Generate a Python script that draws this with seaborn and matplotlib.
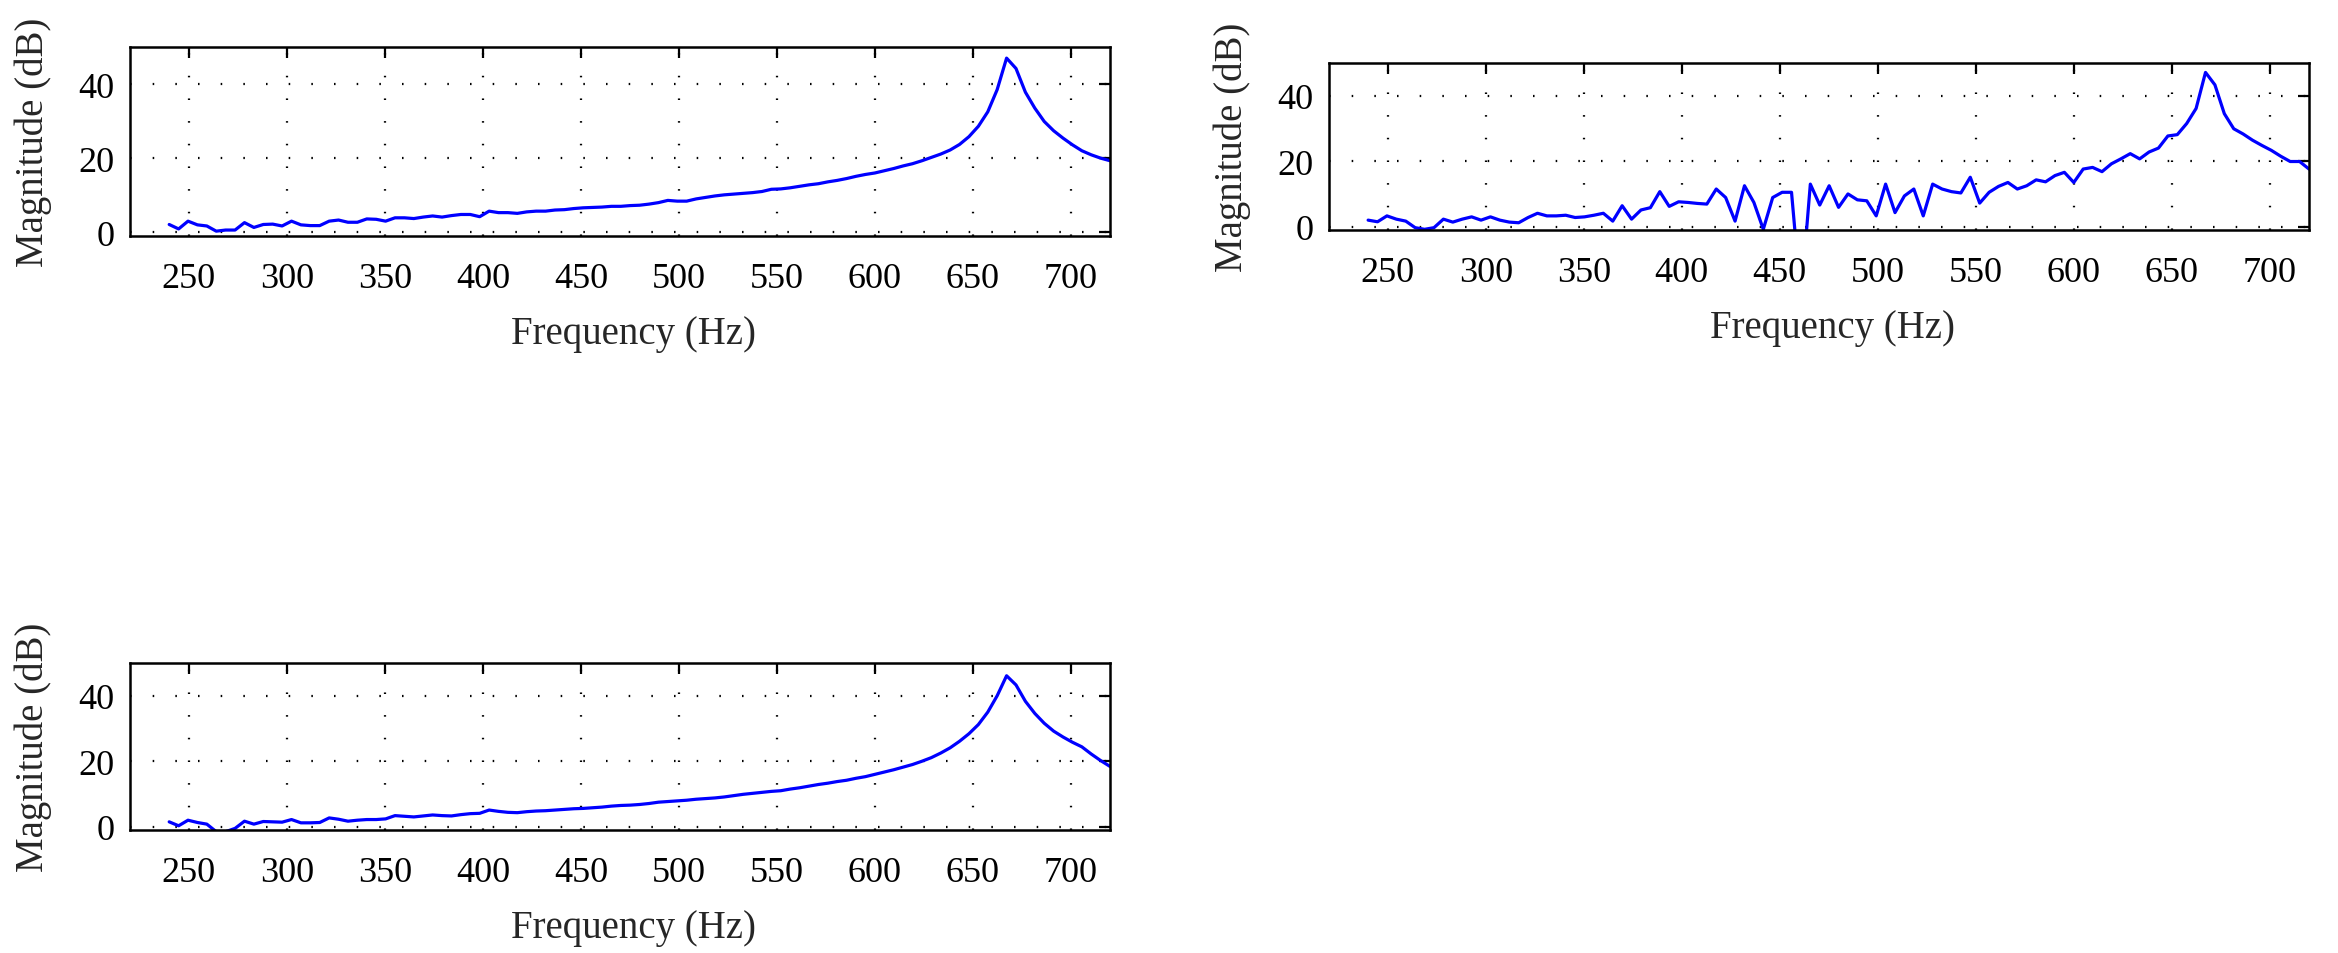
import matplotlib
matplotlib.use("Agg")
import matplotlib.pyplot as plt
import numpy as np
import seaborn as sns

# frequency grid (Hz), 101 samples from 240 to 720
freq = np.linspace(240, 720, 101)

# magnitude responses (dB)
mag_top_left = [
    2.1, 0.9, 3.0, 2.0, 1.7, 0.3, 0.6, 0.6, 2.6, 1.3,
    2.1, 2.2, 1.7, 3.0, 2.0, 1.8, 1.8, 3.0, 3.3, 2.7,
    2.7, 3.6, 3.5, 3.0, 3.9, 3.9, 3.7, 4.1, 4.4, 4.1,
    4.5, 4.8, 4.8, 4.2, 5.7, 5.3, 5.3, 5.1, 5.5, 5.7,
    5.7, 6.0, 6.1, 6.4, 6.6, 6.7, 6.8, 7.0, 7.0, 7.2,
    7.3, 7.6, 8.0, 8.6, 8.4, 8.4, 9.0, 9.4, 9.8, 10.1,
    10.3, 10.5, 10.7, 11.0, 11.6, 11.7, 12.0, 12.4, 12.8, 13.1,
    13.6, 14.0, 14.5, 15.1, 15.6, 16.0, 16.6, 17.2, 17.9, 18.5,
    19.3, 20.2, 21.1, 22.2, 23.7, 25.8, 28.6, 32.5, 38.5, 47.0,
    44.2, 37.8, 33.5, 29.9, 27.4, 25.4, 23.6, 22.0, 20.9, 20.0,
    19.3,
]

mag_top_right = [
    2.0, 1.5, 3.3, 2.3, 1.7, -0.3, -0.8, -0.3, 2.3, 1.4,
    2.3, 3.0, 2.0, 3.0, 2.0, 1.4, 1.2, 2.8, 4.1, 3.3,
    3.3, 3.5, 2.8, 3.0, 3.5, 4.1, 1.7, 6.4, 2.3, 5.1,
    5.8, 10.7, 6.2, 7.6, 7.4, 7.1, 6.9, 11.5, 8.9, 1.7,
    12.5, 7.4, -0.8, 8.9, 10.5, 10.5, -22.0, 13.0, 6.6, 12.5,
    5.9, 10.0, 8.2, 7.9, 3.3, 13.0, 4.3, 9.4, 11.5, 3.3,
    13.0, 11.5, 10.7, 10.3, 15.1, 7.2, 10.5, 12.3, 13.5, 11.5,
    12.5, 14.3, 13.7, 15.6, 16.6, 13.5, 17.6, 18.1, 16.8, 19.2,
    20.7, 22.3, 20.7, 22.8, 24.0, 27.7, 28.1, 31.5, 36.1, 47.1,
    43.3, 34.5, 29.9, 28.3, 26.4, 24.8, 23.3, 21.5, 19.9, 19.9,
    17.6,
]

mag_bottom_left = [
    1.5, 0.3, 2.0, 1.3, 0.8, -1.5, -1.5, -0.5, 1.7, 0.8,
    1.6, 1.5, 1.4, 2.2, 1.2, 1.2, 1.3, 2.7, 2.3, 1.7,
    2.0, 2.2, 2.2, 2.4, 3.4, 3.2, 3.0, 3.3, 3.6, 3.4,
    3.3, 3.7, 4.0, 4.1, 5.1, 4.7, 4.4, 4.3, 4.6, 4.8,
    4.9, 5.1, 5.3, 5.5, 5.6, 5.8, 6.0, 6.3, 6.5, 6.6,
    6.8, 7.1, 7.5, 7.7, 7.9, 8.1, 8.4, 8.6, 8.8, 9.1,
    9.5, 9.9, 10.2, 10.5, 10.8, 11.0, 11.5, 11.9, 12.4, 12.9,
    13.3, 13.8, 14.2, 14.8, 15.3, 16.0, 16.7, 17.4, 18.2, 19.0,
    20.0, 21.1, 22.5, 24.1, 26.1, 28.4, 31.2, 35.0, 40.0, 46.1,
    43.3, 38.3, 34.6, 31.6, 29.2, 27.4, 25.8, 24.4, 22.2, 20.2,
    18.4,
]

xticks = [250, 300, 350, 400, 450, 500, 550, 600, 650, 700]
yticks = [0, 20, 40]

sns.set_style("white")
plt.rcParams["font.family"] = ["Liberation Serif", "DejaVu Serif"]

fig = plt.figure(figsize=(23.38, 9.54), dpi=100)

# axes boxes in figure fractions
boxes = [
    [0.0556, 0.7516, 0.4192, 0.1981],
    [0.5684, 0.7579, 0.4192, 0.1751],
    [0.0556, 0.1289, 0.4192, 0.1751],
]
series = [mag_top_left, mag_top_right, mag_bottom_left]

for box, mag in zip(boxes, series):
    ax = fig.add_axes(box)
    sns.lineplot(x=freq, y=mag, ax=ax, color="#0000ff", linewidth=2.3,
                 estimator=None, sort=False)
    ax.set_xlim(220, 720)
    ax.set_ylim(-1, 50)
    ax.set_xticks(xticks)
    ax.set_yticks(yticks)
    # matlab-style dotted grid
    ax.grid(True, color="black", linewidth=1.6, linestyle=(0, (0.7, 9.5)))
    ax.set_axisbelow(True)
    for sp in ax.spines.values():
        sp.set_visible(True)
        sp.set_linewidth(1.8)
        sp.set_color("black")
    ax.tick_params(direction="in", length=8, width=1.6, top=True, right=True,
                   labelsize=26, colors="black")
    ax.tick_params(axis="x", pad=19)
    ax.tick_params(axis="y", pad=11)
    ax.set_xlabel("Frequency (Hz)", fontsize=28, labelpad=14)
    ax.xaxis.label.set_x(0.514)
    ax.set_ylabel("Magnitude (dB)", fontsize=28, labelpad=19)

fig.savefig("out.png", dpi=100, facecolor="white")
